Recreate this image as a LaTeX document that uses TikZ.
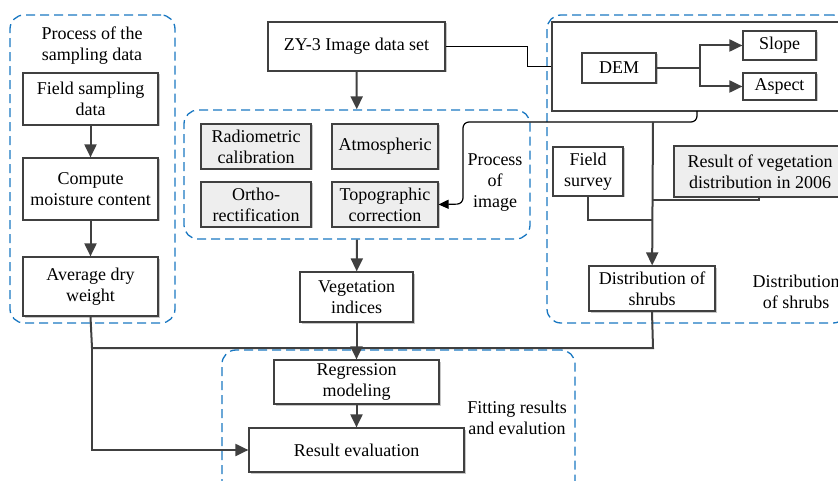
\documentclass[tikz,border=0pt]{standalone}
\usepackage{fontspec}
\setmainfont{Liberation Serif}
\usetikzlibrary{arrows.meta,shadows}

\definecolor{boxline}{HTML}{404040}
\definecolor{boxgray}{HTML}{EEEEEE}
\definecolor{dashblue}{HTML}{1A78C2}

\begin{document}
\begin{tikzpicture}[x=1pt,y=-1pt]
% \tikzstyle{every path}=[thick]

\tikzstyle{procbox}=[draw=boxline,line width=1.2pt,fill=white,align=center,inner sep=2pt,
drop shadow={shadow xshift=1.5pt,shadow yshift=-1.5pt,fill=black!22,opacity=1}]
\tikzstyle{graybox}=[procbox,fill=boxgray]
\tikzstyle{group}=[draw=dashblue,line width=1.3pt,dash pattern=on 9pt off 5pt,
rounded corners=14pt,inner sep=0pt]
\tikzstyle{grouplabel}=[align=center,inner sep=0pt]
\tikzstyle{flow}=[draw=boxline,line width=2pt,-{Triangle[length=13pt,width=12pt]}]
\tikzstyle{flowline}=[draw=boxline,line width=2pt]
\tikzstyle{thinflow}=[draw=black,line width=1.2pt,-{Triangle[length=10pt,width=9pt]}]
\tikzstyle{thinline}=[draw=black,line width=1.2pt]

\fontsize{18}{21}\selectfont
\useasboundingbox (0,0) rectangle (838,481);

%% Dashed groups
\node [group,minimum width=165pt,minimum height=308pt] (gsample) at (92.5,169) {};
\node [group,minimum width=346pt,minimum height=129pt] (gimage) at (357,174.5) {};
\node [group,minimum width=300pt,minimum height=308pt] (gshrub) at (697,169) {};
\node [group,minimum width=353pt,minimum height=150pt] (gfit) at (398.5,425) {};

\node [grouplabel] (lsample) at (92,46) {Process of the\\sampling data};
\node [grouplabel] (limage) at (495,183) {Process\\of\\image};
\node [grouplabel] (lshrub) at (796,292) {Distribution\\of shrubs};
\node [grouplabel] (lfit) at (517,418) {Fitting results\\and evalution};

%% Sampling data
\node [procbox,minimum width=135pt,minimum height=52pt] (fsd) at (90.5,99) {Field sampling\\data};
\node [procbox,minimum width=135pt,minimum height=62pt] (cmc) at (90.5,189) {Compute\\moisture content};
\node [procbox,minimum width=135pt,minimum height=59pt] (adw) at (90.5,286.5) {Average dry\\weight};

%% Image
\node [procbox,minimum width=177pt,minimum height=49pt] (zy3) at (356.5,46.5) {ZY-3 Image data set};
\node [graybox,minimum width=110pt,minimum height=45pt] (radcal) at (256,146.5) {Radiometric\\calibration};
\node [graybox,minimum width=106pt,minimum height=45pt] (atmo) at (385,146.5) {Atmospheric};
\node [graybox,minimum width=110pt,minimum height=45pt] (ortho) at (256,204.5) {Ortho-\\rectification};
\node [graybox,minimum width=106pt,minimum height=45pt] (topo) at (385,204.5) {Topographic\\correction};
\node [procbox,minimum width=113pt,minimum height=50pt] (vegidx) at (356.5,297) {Vegetation\\indices};

%% Shrubs
\node [procbox,minimum width=290pt,minimum height=89pt] (demframe) at (697,66.5) {};
\node [procbox,minimum width=74pt,minimum height=30pt] (dem) at (619,68) {DEM};
\node [procbox,minimum width=73pt,minimum height=29pt] (slope) at (779.5,45.5) {Slope};
\node [procbox,minimum width=73pt,minimum height=27pt] (aspect) at (779.5,86.5) {Aspect};
\node [procbox,minimum width=70pt,minimum height=49pt] (fsurvey) at (588,171.5) {Field\\survey};
\node [graybox,minimum width=172pt,minimum height=51pt] (res2006) at (760,171.5) {Result of vegetation\\distribution in 2006};
\node [procbox,minimum width=126pt,minimum height=45pt] (distsh) at (652,288.5) {Distribution of\\shrubs};

%% Fitting
\node [procbox,minimum width=165pt,minimum height=44pt] (regmod) at (356.5,382) {Regression\\modeling};
\node [procbox,minimum width=215pt,minimum height=44pt] (reseval) at (356.5,450) {Result evaluation};

\coordinate (split) at (700,68);
\coordinate (demout) at (697,111);
\coordinate (jshrub) at (653,122);
\coordinate (jleft) at (92,348);
\coordinate (jright) at (653,348);

%% Connectors
\draw[flow] (fsd) -- (cmc);
\draw[flow] (cmc) -- (adw);
\draw[flow] (zy3) -- (gimage);
\draw[flow] (gimage.south) -- (vegidx);
\draw[thinline] (zy3.east) -- ++(82,0) |- (demframe.west);
\draw[flowline] (dem.east) -- (split);
\draw[flow] (split) |- (slope.west);
\draw[flow] (split) |- (aspect.west);
\draw[thinflow,rounded corners=6pt] (demout) -- (697,122) -- (463,122) -- (463,204) -- (topo.east);
\draw[flow] (jshrub) -- (distsh);
\draw[draw=boxline,line width=1.2pt] (fsurvey.south) -- (588,220) -- (653,220);
\draw[draw=boxline,line width=1.2pt] (759,197) -- (759,200) -- (653,200);
\draw[flowline] (adw.south) -- (jleft) -- (jright) -- (distsh.south);
\draw[flow] (vegidx) -- (regmod);
\draw[flow] (regmod) -- (reseval);
\draw[flow] (jleft) |- (reseval.west);

\end{tikzpicture}
\end{document}
